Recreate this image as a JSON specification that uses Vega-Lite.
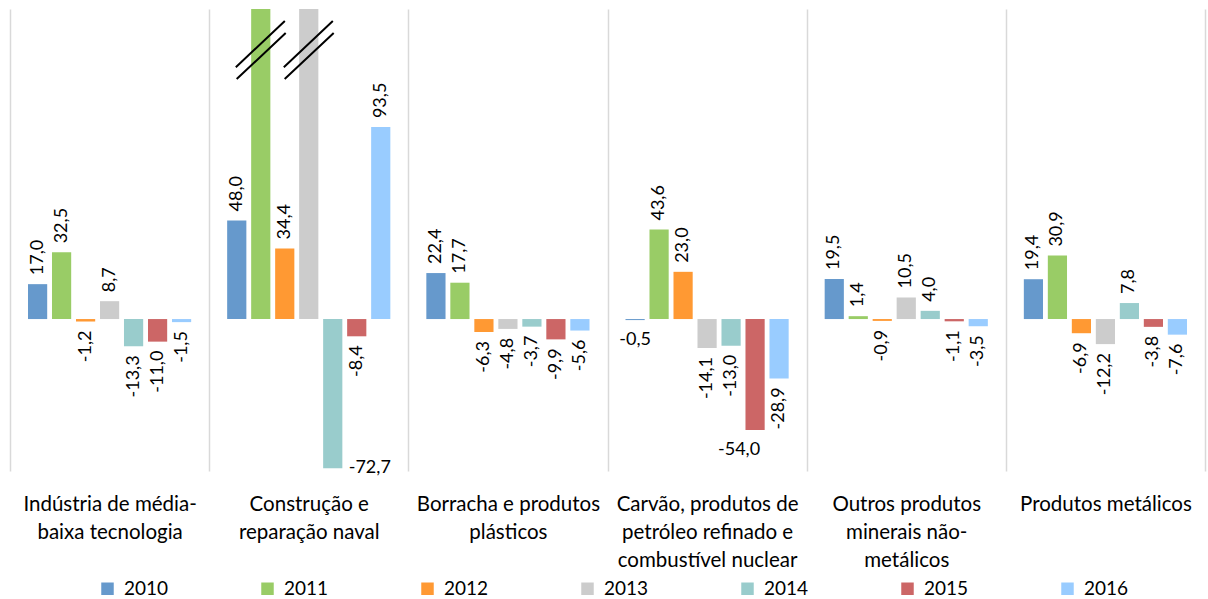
{
  "$schema": "https://vega.github.io/schema/vega-lite/v6.json",
  "width": 1195,
  "height": 462,
  "autosize": {"type": "none"},
  "padding": {"left": 10, "top": 9, "right": 3, "bottom": 128},
  "background": "white",
  "config": {
    "view": {"stroke": null},
    "font": "Lato",
    "locale": {
      "number": {"decimal": ",", "thousands": ".", "grouping": [3], "currency": ["", ""], "minus": "-"}
    }
  },
  "data": {
    "values": [
      {"cat": "Indústria de média-baixa tecnologia", "year": 2010, "value": 17.0},
      {"cat": "Indústria de média-baixa tecnologia", "year": 2011, "value": 32.5},
      {"cat": "Indústria de média-baixa tecnologia", "year": 2012, "value": -1.2},
      {"cat": "Indústria de média-baixa tecnologia", "year": 2013, "value": 8.7},
      {"cat": "Indústria de média-baixa tecnologia", "year": 2014, "value": -13.3},
      {"cat": "Indústria de média-baixa tecnologia", "year": 2015, "value": -11.0},
      {"cat": "Indústria de média-baixa tecnologia", "year": 2016, "value": -1.5},
      {"cat": "Construção e reparação naval", "year": 2010, "value": 48.0},
      {"cat": "Construção e reparação naval", "year": 2011, "value": 250.0},
      {"cat": "Construção e reparação naval", "year": 2012, "value": 34.4},
      {"cat": "Construção e reparação naval", "year": 2013, "value": 220.0},
      {"cat": "Construção e reparação naval", "year": 2014, "value": -72.7},
      {"cat": "Construção e reparação naval", "year": 2015, "value": -8.4},
      {"cat": "Construção e reparação naval", "year": 2016, "value": 93.5},
      {"cat": "Borracha e produtos plásticos", "year": 2010, "value": 22.4},
      {"cat": "Borracha e produtos plásticos", "year": 2011, "value": 17.7},
      {"cat": "Borracha e produtos plásticos", "year": 2012, "value": -6.3},
      {"cat": "Borracha e produtos plásticos", "year": 2013, "value": -4.8},
      {"cat": "Borracha e produtos plásticos", "year": 2014, "value": -3.7},
      {"cat": "Borracha e produtos plásticos", "year": 2015, "value": -9.9},
      {"cat": "Borracha e produtos plásticos", "year": 2016, "value": -5.6},
      {"cat": "Carvão, produtos de petróleo refinado e combustível nuclear", "year": 2010, "value": -0.5},
      {"cat": "Carvão, produtos de petróleo refinado e combustível nuclear", "year": 2011, "value": 43.6},
      {"cat": "Carvão, produtos de petróleo refinado e combustível nuclear", "year": 2012, "value": 23.0},
      {"cat": "Carvão, produtos de petróleo refinado e combustível nuclear", "year": 2013, "value": -14.1},
      {"cat": "Carvão, produtos de petróleo refinado e combustível nuclear", "year": 2014, "value": -13.0},
      {"cat": "Carvão, produtos de petróleo refinado e combustível nuclear", "year": 2015, "value": -54.0},
      {"cat": "Carvão, produtos de petróleo refinado e combustível nuclear", "year": 2016, "value": -28.9},
      {"cat": "Outros produtos minerais não-metálicos", "year": 2010, "value": 19.5},
      {"cat": "Outros produtos minerais não-metálicos", "year": 2011, "value": 1.4},
      {"cat": "Outros produtos minerais não-metálicos", "year": 2012, "value": -0.9},
      {"cat": "Outros produtos minerais não-metálicos", "year": 2013, "value": 10.5},
      {"cat": "Outros produtos minerais não-metálicos", "year": 2014, "value": 4.0},
      {"cat": "Outros produtos minerais não-metálicos", "year": 2015, "value": -1.1},
      {"cat": "Outros produtos minerais não-metálicos", "year": 2016, "value": -3.5},
      {"cat": "Produtos metálicos", "year": 2010, "value": 19.4},
      {"cat": "Produtos metálicos", "year": 2011, "value": 30.9},
      {"cat": "Produtos metálicos", "year": 2012, "value": -6.9},
      {"cat": "Produtos metálicos", "year": 2013, "value": -12.2},
      {"cat": "Produtos metálicos", "year": 2014, "value": 7.8},
      {"cat": "Produtos metálicos", "year": 2015, "value": -3.8},
      {"cat": "Produtos metálicos", "year": 2016, "value": -7.6}
    ]
  },
  "encoding": {
    "x": {
      "field": "cat",
      "type": "nominal",
      "sort": null,
      "scale": {"paddingInner": 0, "paddingOuter": 0},
      "axis": {
        "title": null,
        "orient": "bottom",
        "domain": false,
        "ticks": false,
        "tickBand": "extent",
        "grid": true,
        "gridColor": "#D9D9D9",
        "gridWidth": 1.5,
        "labelAngle": 0,
        "labelPadding": 23,
        "labelFont": "Lato",
        "labelFontSize": 20.5,
        "labelLineHeight": 28,
        "labelColor": "#000000",
        "labelLimit": 400,
        "labelOverlap": false,
        "labelBound": false,
        "labelExpr": "({'Indústria de média-baixa tecnologia': ['Indústria de média-', 'baixa tecnologia'], 'Construção e reparação naval': ['Construção e', 'reparação naval'], 'Borracha e produtos plásticos': ['Borracha e produtos', 'plásticos'], 'Carvão, produtos de petróleo refinado e combustível nuclear': ['Carvão, produtos de', 'petróleo refinado e', 'combustível nuclear'], 'Outros produtos minerais não-metálicos': ['Outros produtos', 'minerais não-', 'metálicos'], 'Produtos metálicos': ['Produtos metálicos']})[datum.value]"
      }
    },
    "xOffset": {
      "field": "year",
      "type": "nominal",
      "scale": {"paddingInner": 0.2, "paddingOuter": 0.75}
    },
    "y": {
      "field": "value",
      "type": "quantitative",
      "scale": {"domain": [-74, 151], "nice": false, "zero": false},
      "axis": null
    }
  },
  "layer": [
    {
      "mark": {"type": "bar", "clip": true},
      "encoding": {
        "y2": {"datum": 0},
        "color": {
          "field": "year",
          "type": "nominal",
          "scale": {
            "range": ["#6699CC", "#99CC66", "#FF9933", "#CCCCCC", "#99CCCC", "#CC6666", "#99CCFF"]
          },
          "legend": {
            "title": null,
            "orient": "none",
            "legendX": 88,
            "legendY": 570,
            "direction": "horizontal",
            "symbolType": "square",
            "symbolSize": 156,
            "symbolStrokeWidth": 0,
            "labelFont": "Lato",
            "labelFontSize": 19,
            "labelColor": "#000000",
            "labelOffset": 7,
            "columnPadding": 89
          }
        }
      }
    },
    {
      "transform": [{"filter": "datum.value > 0 && datum.value < 151"}],
      "mark": {"type": "text", "angle": 270, "align": "left", "baseline": "middle", "dx": 9, "fontSize": 18, "color": "#000000"},
      "encoding": {"text": {"field": "value", "type": "quantitative", "format": ".1f"}}
    },
    {
      "transform": [{"filter": "datum.value < 0 && !(datum.cat === 'Carvão, produtos de petróleo refinado e combustível nuclear' && (datum.year === 2010 || datum.year === 2015)) && !(datum.cat === 'Construção e reparação naval' && datum.year === 2014)"}],
      "mark": {"type": "text", "angle": 270, "align": "right", "baseline": "middle", "dx": -9, "fontSize": 18, "color": "#000000"},
      "encoding": {"text": {"field": "value", "type": "quantitative", "format": ".1f"}}
    },
    {
      "transform": [{"filter": "datum.cat === 'Carvão, produtos de petróleo refinado e combustível nuclear' && datum.year === 2010"}],
      "mark": {"type": "text", "align": "center", "baseline": "top", "dy": 11, "fontSize": 18, "color": "#000000"},
      "encoding": {"text": {"field": "value", "type": "quantitative", "format": ".1f"}}
    },
    {
      "transform": [{"filter": "datum.cat === 'Carvão, produtos de petróleo refinado e combustível nuclear' && datum.year === 2015"}],
      "mark": {"type": "text", "align": "center", "baseline": "top", "dx": -16, "dy": 11, "fontSize": 18, "color": "#000000"},
      "encoding": {"text": {"field": "value", "type": "quantitative", "format": ".1f"}}
    },
    {
      "transform": [{"filter": "datum.cat === 'Construção e reparação naval' && datum.year === 2014"}],
      "mark": {"type": "text", "align": "left", "baseline": "middle", "dx": 16, "fontSize": 18, "color": "#000000"},
      "encoding": {"text": {"field": "value", "type": "quantitative", "format": ".1f"}}
    },
    {
      "transform": [{"filter": "datum.cat === 'Construção e reparação naval' && (datum.year === 2011 || datum.year === 2013)"}],
      "mark": {
        "type": "point",
        "shape": "M-0.86,0.59L0.83,-1M-0.83,1L0.86,-0.59",
        "size": 3364,
        "filled": false,
        "stroke": "#000000",
        "strokeWidth": 2,
        "opacity": 1,
        "xOffset": -3
      },
      "encoding": {"y": {"datum": 131, "type": "quantitative"}}
    }
  ]
}
